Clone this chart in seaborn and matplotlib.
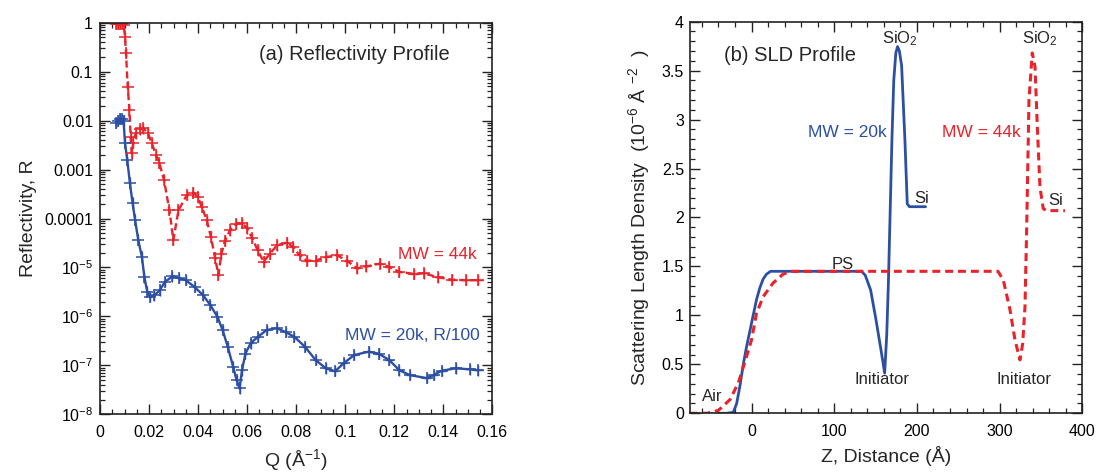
import numpy as np
import matplotlib
matplotlib.use("Agg")
import matplotlib.pyplot as plt
import matplotlib.ticker as mticker
import seaborn as sns

# ---------------- data ----------------
# (a) reflectivity, MW = 44k  (log10 R)
q_44k = [0.0066, 0.0074, 0.0082, 0.0090, 0.0097, 0.0102, 0.0106, 0.0113, 0.0120, 0.0125,
         0.0129, 0.0136, 0.0146, 0.0162, 0.0177, 0.0195, 0.0211, 0.0228, 0.0242, 0.0261,
         0.0283, 0.0299, 0.0320, 0.0354, 0.0381, 0.0400, 0.0415, 0.0435, 0.0452, 0.0469,
         0.0483, 0.0495, 0.0510, 0.0530, 0.0555, 0.0578, 0.0600, 0.0621, 0.0643, 0.0667,
         0.0693, 0.0721, 0.0762, 0.0786, 0.0814, 0.0843, 0.0879, 0.0921, 0.0966, 0.1007,
         0.1048, 0.1086, 0.1143, 0.1179, 0.1221, 0.1279, 0.1320, 0.1379, 0.1436, 0.1493, 0.1543]
logr_44k = [-0.03, -0.02, -0.02, -0.03, -0.05, -0.30, -0.62, -1.32, -1.78, -2.33,
            -2.67, -2.45, -2.26, -2.18, -2.16, -2.25, -2.46, -2.70, -2.87, -3.21,
            -3.83, -4.44, -3.83, -3.52, -3.47, -3.57, -3.76, -4.03, -4.37, -4.80,
            -5.15, -4.72, -4.45, -4.24, -4.11, -4.09, -4.20, -4.40, -4.65, -4.88,
            -4.72, -4.55, -4.49, -4.58, -4.75, -4.86, -4.86, -4.79, -4.75, -4.86,
            -5.02, -4.98, -4.92, -4.99, -5.09, -5.13, -5.12, -5.20, -5.25, -5.26, -5.26]

# (a) reflectivity, MW = 20k, R/100  (log10 R)
q_20k = [0.0065, 0.0073, 0.0082, 0.0090, 0.0096, 0.0102, 0.0111, 0.0122, 0.0133, 0.0143,
         0.0156, 0.0171, 0.0181, 0.0193, 0.0205, 0.0221, 0.0243, 0.0264, 0.0295, 0.0321,
         0.0350, 0.0386, 0.0421, 0.0450, 0.0479, 0.0500, 0.0521, 0.0543, 0.0557, 0.0569,
         0.0579, 0.0593, 0.0614, 0.0643, 0.0679, 0.0721, 0.0757, 0.0793, 0.0836, 0.0879,
         0.0921, 0.0959, 0.0993, 0.1036, 0.1095, 0.1136, 0.1179, 0.1221, 0.1264, 0.1333,
         0.1360, 0.1393, 0.1450, 0.1507, 0.1543]
logr_20k = [-2.05, -2.00, -1.96, -1.97, -2.00, -2.46, -2.80, -3.28, -3.69, -4.03,
            -4.44, -4.79, -5.20, -5.50, -5.60, -5.57, -5.47, -5.30, -5.18, -5.22,
            -5.26, -5.40, -5.57, -5.77, -6.01, -6.28, -6.62, -7.03, -7.30, -7.47,
            -7.10, -6.76, -6.55, -6.42, -6.28, -6.24, -6.32, -6.42, -6.62, -6.89,
            -7.06, -7.12, -6.96, -6.79, -6.72, -6.76, -6.89, -7.10, -7.20, -7.26,
            -7.20, -7.11, -7.06, -7.08, -7.10]

# (b) SLD profiles (10^-6 A^-2)
z_20k = [-40, -30, -22, -18, -14, -10, -6, -2, 2, 6, 10, 14, 18, 23, 133, 137.5, 144, 150,
         156.5, 161, 163.5, 165.5, 167.8, 169.8, 172, 174.5, 176.6, 178.8, 181.5, 185.5,
         188.3, 191, 210.5]
sld_20k = [0, 0, 0.01, 0.10, 0.28, 0.50, 0.68, 0.84, 1.00, 1.16, 1.28, 1.37, 1.42, 1.45,
           1.45, 1.41, 1.26, 0.98, 0.65, 0.41, 0.80, 1.33, 2.11, 2.80, 3.40, 3.68, 3.745,
           3.70, 3.55, 2.79, 2.14, 2.11, 2.11]
z_44k = [-75, -54, -40, -26, -16, -6, 0, 6, 14, 26, 38, 48, 298, 304.5, 312.5, 318.6,
         324.6, 327.9, 330.7, 332.7, 335.5, 339.5, 342.8, 345.6, 348.8, 352.8, 356.9, 379]
sld_44k = [0, 0, 0.03, 0.14, 0.31, 0.58, 0.75, 1.02, 1.19, 1.33, 1.42, 1.45, 1.45, 1.36,
           1.06, 0.75, 0.545, 0.71, 1.09, 1.87, 3.20, 3.68, 3.54, 2.93, 2.31, 2.09, 2.07, 2.07]

log_ticks = [0, -1, -2, -3, -4, -5, -6, -7, -8]
log_tick_labels = ["1", "0.1", "0.01", "0.001", "0.0001",
                   r"$\mathregular{10^{-5}}$", r"$\mathregular{10^{-6}}$",
                   r"$\mathregular{10^{-7}}$", r"$\mathregular{10^{-8}}$"]

RED = "#e8232a"
BLUE = "#2c4fa3"

# ---------------- style ----------------
sns.set_style("ticks")
plt.rcParams["font.family"] = ["Liberation Sans", "DejaVu Sans"]
plt.rcParams["mathtext.fontset"] = "custom"
plt.rcParams["mathtext.rm"] = "Liberation Sans"
plt.rcParams["mathtext.it"] = "Liberation Sans:italic"
plt.rcParams["mathtext.bf"] = "Liberation Sans:bold"
plt.rcParams["axes.linewidth"] = 1.2

fig = plt.figure(figsize=(10.99, 4.74), dpi=100)
ax1 = fig.add_axes([0.0910, 0.1259, 0.3570, 0.8262])
ax2 = fig.add_axes([0.6274, 0.1281, 0.3574, 0.8262])

# ---------------- (a) reflectivity ----------------
ax1.set_yscale("log")
for q, lr, col, ls in [(q_44k, logr_44k, RED, (0, (3.0, 1.6))),
                       (q_20k, logr_20k, BLUE, "-")]:
    q = np.asarray(q)
    r = 10.0 ** np.asarray(lr)
    sns.lineplot(x=q, y=r, ax=ax1, color=col, lw=1.7, sort=False, estimator=None)
    ax1.lines[-1].set_linestyle(ls)
    ax1.errorbar(q, r, yerr=[r - r / 1.28, r * 1.28 - r], xerr=0.013 * q,
                 fmt="+", ms=8, mew=1.1, color=col, ecolor=col, elinewidth=1.0,
                 capsize=0)

ax1.set_xlim(0, 0.16)
ax1.set_ylim(1e-8, 1)
ax1.xaxis.set_major_locator(mticker.MultipleLocator(0.02))
ax1.xaxis.set_minor_locator(mticker.MultipleLocator(0.005))
ax1.xaxis.set_major_formatter(mticker.FuncFormatter(lambda v, p: "0" if abs(v) < 1e-9 else f"{v:g}"))
ax1.yaxis.set_major_locator(mticker.FixedLocator([10.0 ** e for e in log_ticks]))
ax1.yaxis.set_major_formatter(mticker.FixedFormatter(log_tick_labels))
ax1.yaxis.set_minor_locator(mticker.LogLocator(base=10, subs=np.arange(2, 10), numticks=20))
ax1.yaxis.set_minor_formatter(mticker.NullFormatter())
ax1.set_xlabel("Q (Å$^{-1}$)", fontsize=14, labelpad=5)
ax1.set_ylabel("Reflectivity, R", fontsize=14, labelpad=5)

ax1.text(0.405, 0.918, "(a) Reflectivity Profile", transform=ax1.transAxes,
         fontsize=14.5, ha="left", va="center")
ax1.text(0.961, 0.409, "MW = 44k", transform=ax1.transAxes, color=RED,
         fontsize=12.5, ha="right", va="center")
ax1.text(0.968, 0.200, "MW = 20k, R/100", transform=ax1.transAxes, color=BLUE,
         fontsize=12.5, ha="right", va="center")

# ---------------- (b) SLD ----------------
sns.lineplot(x=z_20k, y=sld_20k, ax=ax2, color=BLUE, lw=2.0, sort=False, estimator=None)
sns.lineplot(x=z_44k, y=sld_44k, ax=ax2, color=RED, lw=2.2, sort=False, estimator=None)
ax2.lines[-1].set_linestyle((0, (2.6, 1.6)))

ax2.set_xlim(-75, 400)
ax2.set_ylim(0, 4)
ax2.xaxis.set_major_locator(mticker.FixedLocator([0, 100, 200, 300, 400]))
ax2.xaxis.set_minor_locator(mticker.MultipleLocator(20))
ax2.yaxis.set_major_locator(mticker.MultipleLocator(0.5))
ax2.yaxis.set_minor_locator(mticker.MultipleLocator(0.1))
ax2.yaxis.set_major_formatter(mticker.FuncFormatter(lambda v, p: f"{v:g}"))
ax2.set_xlabel("Z, Distance (Å)", fontsize=14, labelpad=5)
ax2.set_ylabel("Scattering Length Density  (10$^{-6}$ Å $^{-2}$  )", fontsize=14, labelpad=7)

ax2.text(-33, 3.65, "(b) SLD Profile", fontsize=14.5, ha="left", va="center")
ax2.text(163, 2.87, "MW = 20k", color=BLUE, fontsize=12.5, ha="right", va="center")
ax2.text(326, 2.87, "MW = 44k", color=RED, fontsize=12.5, ha="right", va="center")
ax2.text(179.4, 3.83, "SiO$_2$", fontsize=12, ha="center", va="center")
ax2.text(348.4, 3.83, "SiO$_2$", fontsize=12, ha="center", va="center")
ax2.text(205.7, 2.19, "Si", fontsize=12, ha="center", va="center")
ax2.text(368, 2.17, "Si", fontsize=12, ha="center", va="center")
ax2.text(110, 1.52, "PS", fontsize=12, ha="center", va="center")
ax2.text(157.8, 0.34, "Initiator", fontsize=12, ha="center", va="center")
ax2.text(330, 0.34, "Initiator", fontsize=12, ha="center", va="center")
ax2.text(-48, 0.17, "Air", fontsize=12, ha="center", va="center")

for ax in (ax1, ax2):
    for s in ax.spines.values():
        s.set_visible(True)
        s.set_linewidth(1.2)
        s.set_color("#222222")
    ax.tick_params(which="both", direction="in", top=True, right=True,
                   colors="#222222", labelcolor="black")
    ax.tick_params(which="major", length=7, width=1.0, labelsize=11.5)
    ax.tick_params(which="minor", length=3.5, width=0.9)
ax1.tick_params(axis="x", which="major", pad=8)
ax1.tick_params(axis="y", which="major", pad=5)
ax2.tick_params(axis="x", which="major", pad=8)
ax2.tick_params(axis="y", which="major", pad=4)

fig.savefig("out.png", dpi=100)
